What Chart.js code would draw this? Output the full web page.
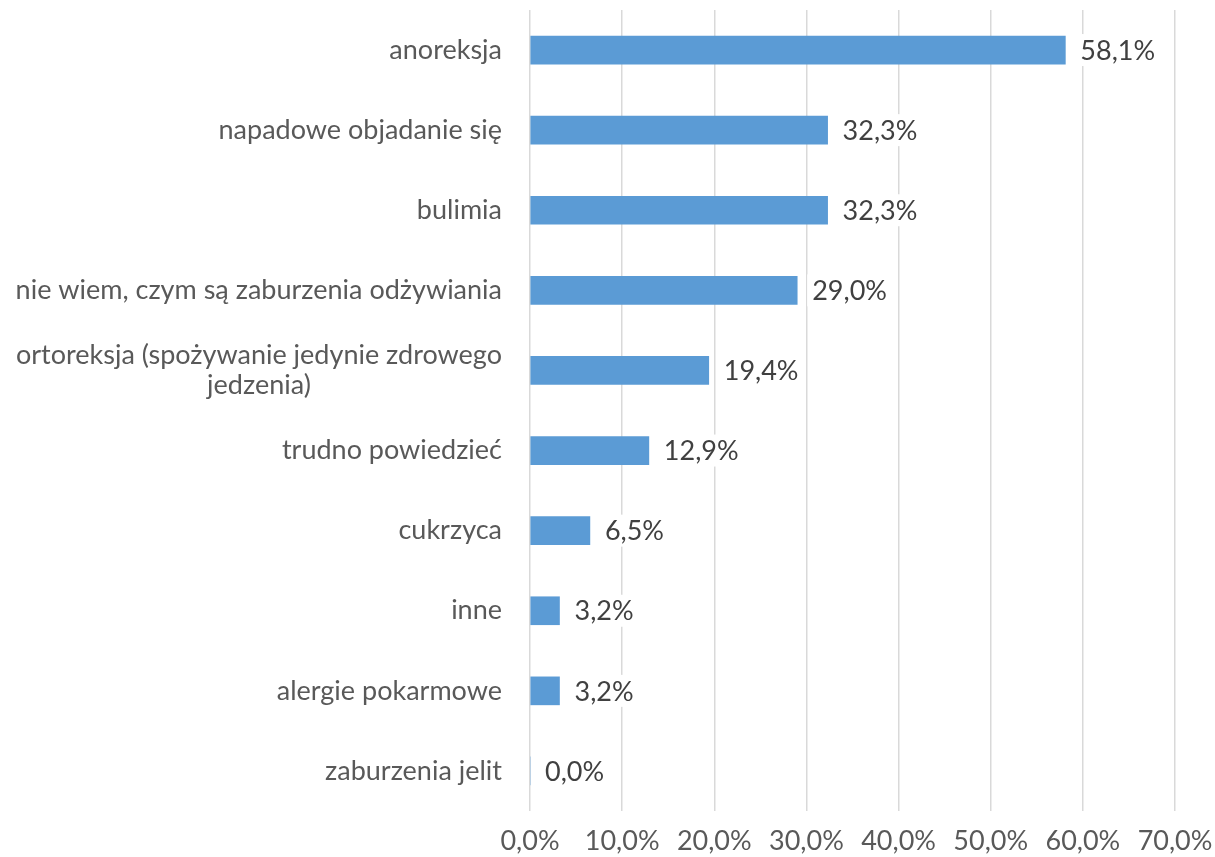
<!DOCTYPE html>
<html>
<head>
<meta charset="utf-8">
<script src="https://cdn.jsdelivr.net/npm/chart.js@4"></script>
<style>
  html, body { margin: 0; padding: 0; background: #fff; }
  #wrap { width: 1215px; height: 857px; }
</style>
</head>
<body>
<div id="wrap"><canvas id="chart"></canvas></div>
<script>
const categories = [
    'anoreksja',
    'napadowe objadanie się',
    'bulimia',
    'nie wiem, czym są zaburzenia odżywiania',
    ['ortoreksja (spożywanie jedynie zdrowego', 'jedzenia)'],
    'trudno powiedzieć',
    'cukrzyca',
    'inne',
    'alergie pokarmowe',
    'zaburzenia jelit'
];
const values = [58.1, 32.3, 32.3, 29.0, 19.4, 12.9, 6.5, 3.2, 3.2, 0.0];
const xTicks = [0, 10, 20, 30, 40, 50, 60, 70];

const FONT = 'Lato, "Open Sans", sans-serif';
const SIZE = 27;
const fmt = v => v.toFixed(1).replace('.', ',') + '%';

// y labels: right-aligned block, multi-line centered inside it
const yLabels = {
    id: 'yLabels',
    afterDraw(chart) {
        const ctx = chart.ctx;
        const y = chart.scales.y;
        const right = chart.chartArea.left - 28;
        ctx.save();
        ctx.font = SIZE + 'px ' + FONT;
        ctx.fillStyle = '#595959';
        ctx.textBaseline = 'middle';
        ctx.textAlign = 'center';
        categories.forEach((lab, i) => {
            const lines = Array.isArray(lab) ? lab : [lab];
            const w = Math.max(...lines.map(l => ctx.measureText(l).width));
            const cx = right - w / 2;
            const cy = y.getPixelForValue(i);
            lines.forEach((l, j) => {
                ctx.fillText(l, cx, cy + (j - (lines.length - 1) / 2) * 30);
            });
        });
        ctx.restore();
    }
};

// value labels with white box
const valueLabels = {
    id: 'valueLabels',
    afterDatasetsDraw(chart) {
        const ctx = chart.ctx;
        const meta = chart.getDatasetMeta(0);
        ctx.save();
        ctx.font = SIZE + 'px ' + FONT;
        ctx.textBaseline = 'middle';
        ctx.textAlign = 'left';
        meta.data.forEach((bar, i) => {
            const txt = fmt(values[i]);
            const x = bar.x + 15;
            const w = ctx.measureText(txt).width;
            ctx.fillStyle = '#ffffff';
            ctx.fillRect(x - 5, bar.y - 16, w + 10, 32);
            ctx.fillStyle = '#404040';
            ctx.fillText(txt, x, bar.y + 1);
        });
        ctx.restore();
    }
};

new Chart(document.getElementById('chart'), {
    type: 'bar',
    data: {
        labels: categories,
        datasets: [{
            data: values,
            backgroundColor: '#5B9BD5',
            barThickness: 28
        }]
    },
    options: {
        indexAxis: 'y',
        responsive: true,
        maintainAspectRatio: false,
        animation: false,
        layout: { padding: { left: 522, right: 0, top: 10, bottom: -3 } },
        plugins: { legend: { display: false }, tooltip: { enabled: false } },
        scales: {
            x: {
                min: 0,
                max: 70,
                afterBuildTicks: s => { s.ticks = xTicks.map(v => ({ value: v })); },
                afterFit: s => { s.height = 49; s.paddingRight = 40; s.paddingLeft = 0; },
                grid: { color: '#D9D9D9', lineWidth: 1.5, drawTicks: false },
                border: { display: false },
                ticks: {
                    padding: 14,
                    color: '#595959',
                    font: { family: FONT, size: SIZE },
                    callback: v => fmt(v),
                    maxRotation: 0
                }
            },
            y: {
                grid: { display: false },
                border: { display: false },
                ticks: { display: false }
            }
        }
    },
    plugins: [yLabels, valueLabels]
});
</script>
</body>
</html>
